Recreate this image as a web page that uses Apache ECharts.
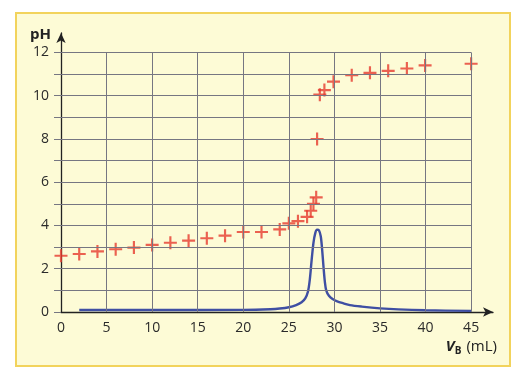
<!DOCTYPE html>
<html>
<head>
<meta charset="utf-8">
<script src="https://cdn.jsdelivr.net/npm/echarts@6/dist/echarts.min.js"></script>
<style>
  html, body { margin: 0; padding: 0; background: #ffffff; }
  #panel { position: absolute; left: 15px; top: 12px; width: 492px; height: 351px;
           background: #fdfbd6; border: 2px solid #f2d35c; }
  #chart { position: absolute; left: 0; top: 0; width: 528px; height: 379px; }
</style>
</head>
<body>
<div id="panel"></div>
<div id="chart"></div>
<script>
// pH titration data (volume of base in mL, pH)
const volumes = [0, 2, 4, 6, 8, 10, 12, 14, 16, 18, 20, 22, 24, 25, 26, 27, 27.4, 27.7, 28, 28.1, 28.4, 28.9, 29.9, 31.9, 33.9, 35.9, 37.95, 39.95, 45];
const phValues = [2.6, 2.68, 2.8, 2.9, 2.98, 3.1, 3.2, 3.3, 3.41, 3.53, 3.7, 3.7, 3.82, 4.1, 4.2, 4.4, 4.68, 5.0, 5.3, 8.0, 10.05, 10.26, 10.65, 10.95, 11.06, 11.15, 11.26, 11.4, 11.48];

// derivative curve dpH/dV (blue)
const derivVolumes = [2, 10, 20, 23, 24, 25, 25.8, 26.4, 26.8, 27.1, 27.3, 27.5, 27.7, 27.9, 28.1, 28.3, 28.5, 28.65, 28.8, 28.95, 29.1, 29.4, 29.8, 30.3, 31, 31.7, 33, 35, 37, 40, 45];
const derivValues = [0.09, 0.09, 0.1, 0.13, 0.16, 0.22, 0.32, 0.45, 0.63, 0.95, 1.5, 2.4, 3.2, 3.65, 3.8, 3.78, 3.5, 2.9, 2.1, 1.4, 1.0, 0.75, 0.6, 0.49, 0.4, 0.32, 0.25, 0.17, 0.12, 0.08, 0.05];

// axis ticks and labels
const xTickLabels = [0, 5, 10, 15, 20, 25, 30, 35, 40, 45];
const yTickLabels = [0, 2, 4, 6, 8, 10, 12];
const yGridValues = [0, 1, 2, 3, 4, 5, 6, 7, 8, 9, 10, 11, 12];

const xGridMax = 45, yGridMax = 12;

const phData = volumes.map((v, i) => [v, phValues[i]]);
const derivData = derivVolumes.map((v, i) => [v, derivValues[i]]);

const gridLines = [];
yGridValues.filter(y => y > 0).forEach(y => gridLines.push([{ coord: [0, y] }, { coord: [xGridMax, y] }]));
xTickLabels.filter(x => x > 0).forEach(x => gridLines.push([{ coord: [x, 0] }, { coord: [x, yGridMax] }]));

const chart = echarts.init(document.getElementById('chart'), null, { renderer: 'canvas' });
const font = '"Open Sans", "Noto Sans", sans-serif';
const gridColor = '#767682';

chart.setOption({
  backgroundColor: 'transparent',
  animation: false,
  title: {
    text: '{v|V}{b|B} {u|(mL)}',
    right: 31,
    top: 338,
    padding: 0,
    textStyle: {
      fontWeight: 'normal',
      rich: {
        v: { fontFamily: font, fontSize: 15, fontWeight: 'bold', fontStyle: 'italic', color: '#222' },
        b: { fontFamily: font, fontSize: 10, fontWeight: 'bold', color: '#222', verticalAlign: 'bottom', padding: [6, 0, 0, 0] },
        u: { fontFamily: font, fontSize: 15, fontWeight: 'normal', color: '#222' }
      }
    }
  },
  grid: { left: 61, right: 35, top: 33, bottom: 67, containLabel: false },
  xAxis: {
    type: 'value',
    min: 0,
    max: 47.4,
    axisLine: { show: true, symbol: ['none', 'arrow'], symbolSize: [7, 10], lineStyle: { color: '#222', width: 1.3 } },
    axisTick: { show: false },
    splitLine: { show: false },
    axisLabel: { customValues: xTickLabels, margin: 9, fontSize: 14, fontFamily: font, color: '#2a2a2a' }
  },
  yAxis: {
    type: 'value',
    min: 0,
    max: 12.9,
    name: 'pH',
    nameLocation: 'end',
    nameGap: -2,
    nameTextStyle: { fontFamily: font, fontSize: 15, fontWeight: 'bold', color: '#222', align: 'right', verticalAlign: 'middle', padding: [0, 10, 0, 0] },
    axisLine: { show: true, symbol: ['none', 'arrow'], symbolSize: [7, 10], lineStyle: { color: '#222', width: 1.3 } },
    axisTick: { show: true, customValues: yGridValues, length: 7, lineStyle: { color: gridColor, width: 1 } },
    splitLine: { show: false },
    axisLabel: { customValues: yTickLabels, margin: 12, fontSize: 14, fontFamily: font, color: '#2a2a2a' }
  },
  series: [
    {
      type: 'line',
      data: [],
      z: 1,
      silent: true,
      markLine: {
        silent: true,
        symbol: ['none', 'none'],
        label: { show: false },
        emphasis: { disabled: true },
        lineStyle: { color: gridColor, width: 1, type: 'solid' },
        data: gridLines
      }
    },
    {
      type: 'line',
      data: derivData,
      z: 2,
      smooth: 0.3,
      showSymbol: false,
      lineStyle: { color: '#3f4fa3', width: 2.4 }
    },
    {
      type: 'scatter',
      data: phData,
      z: 3,
      symbol: 'path://M5,0H7V5H12V7H7V12H5V7H0V5H5Z',
      symbolSize: 13,
      itemStyle: { color: '#e63b2e' }
    }
  ]
});
</script>
</body>
</html>
